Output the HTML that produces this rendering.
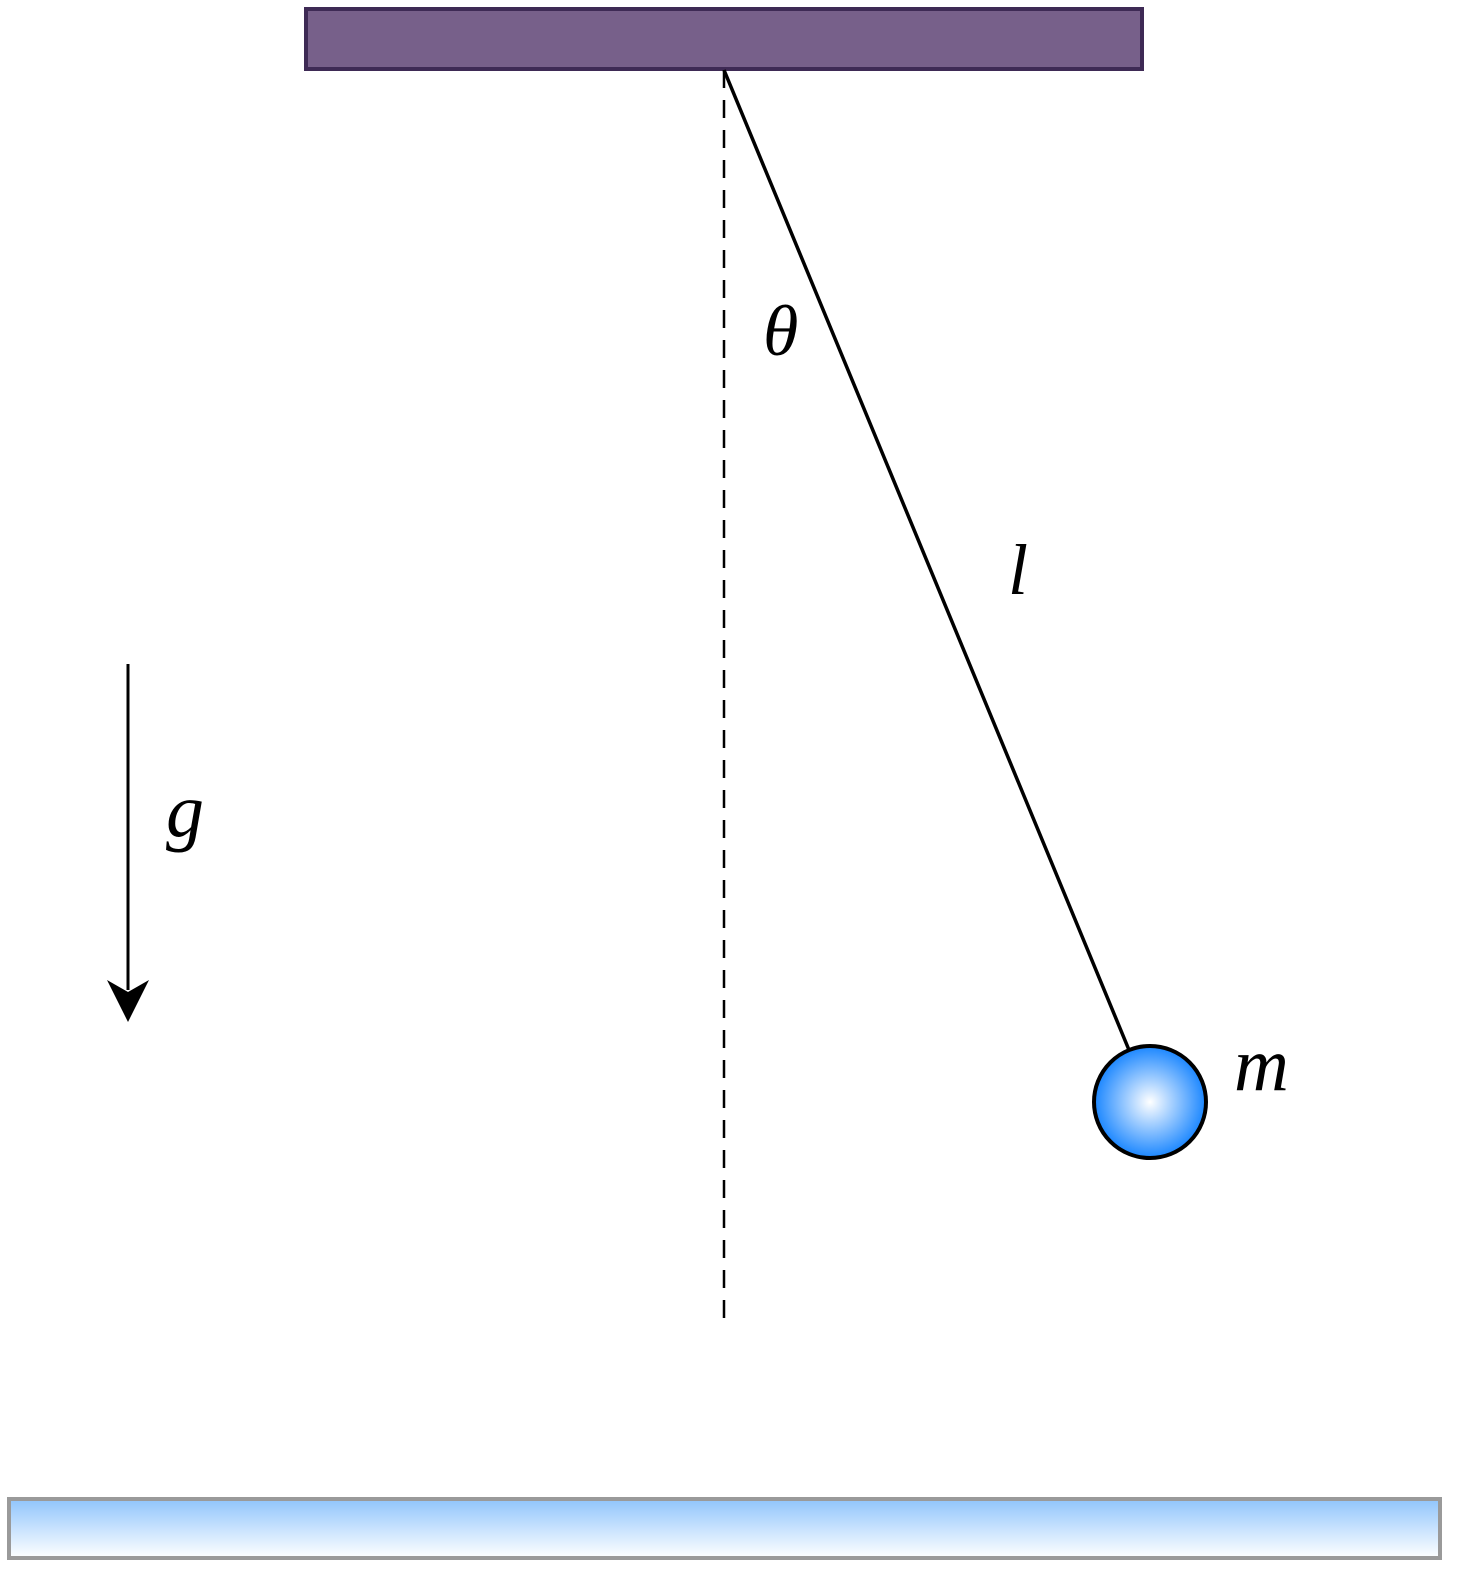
<!DOCTYPE html>
<html><head><meta charset="utf-8"><style>html,body{margin:0;padding:0;background:#fff}svg{display:block}</style></head>
<body>
<svg width="1470" height="1578" viewBox="0 0 1470 1578">
<defs>
<radialGradient id="ballg" cx="0.5" cy="0.5" r="0.5"><stop offset="0" stop-color="#ffffff"/><stop offset="1" stop-color="#1a86ff"/></radialGradient>
<linearGradient id="floorg" x1="0" y1="0" x2="0" y2="1"><stop offset="0" stop-color="#90c4fc"/><stop offset="1" stop-color="#ffffff"/></linearGradient>
</defs>
<rect x="306" y="9" width="836" height="60" fill="#77608a" stroke="#3e2a55" stroke-width="4"/>
<line x1="724" y1="70" x2="724" y2="1320" stroke="#000" stroke-width="2.5" stroke-dasharray="18,12"/>
<line x1="724" y1="70" x2="1129" y2="1050" stroke="#000" stroke-width="3.5"/>
<circle cx="1150" cy="1102" r="56" fill="url(#ballg)" stroke="#000" stroke-width="4"/>
<text x="763" y="355" font-family="Liberation Serif, serif" font-style="italic" font-size="72">θ</text>
<text x="1008" y="594" font-family="Liberation Serif, serif" font-style="italic" font-size="72">l</text>
<text x="1234" y="1090" font-family="Liberation Serif, serif" font-style="italic" font-size="76">m</text>
<line x1="128" y1="664" x2="128" y2="990" stroke="#000" stroke-width="3"/>
<polygon points="107,980 128,1022 149,980 128,992" fill="#000"/>
<text x="166" y="836" font-family="Liberation Serif, serif" font-style="italic" font-size="76">g</text>
<rect x="9" y="1499" width="1431" height="59" fill="url(#floorg)" stroke="#9a9a9a" stroke-width="4"/>
</svg>
</body></html>
